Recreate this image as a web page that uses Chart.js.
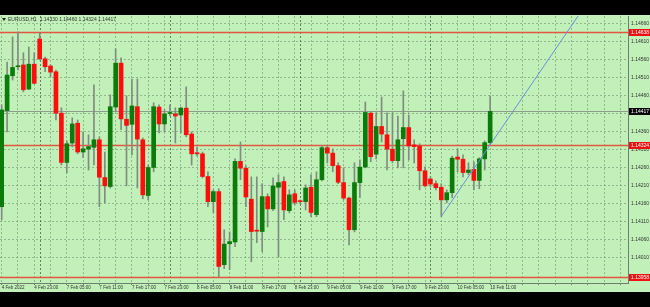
<!DOCTYPE html>
<html>
<head>
<meta charset="utf-8">
<script src="https://cdn.jsdelivr.net/npm/chart.js@4.4.1/dist/chart.umd.min.js"></script>
<style>
  html, body { margin: 0; padding: 0; background: #000; }
  #wrap { width: 650px; height: 307px; }
</style>
</head>
<body>
<div id="wrap"><canvas id="price_chart" width="650" height="307"></canvas></div>
<script>
// EURUSD H1, 4 Feb 17:00 .. 10 Feb 11:00
var opens = [1.14152,1.14419,1.14516,1.14541,1.14546,1.14479,1.14548,1.14618,1.14563,1.14543,
  1.14527,1.14412,1.14275,1.14329,1.14384,1.14304,1.14312,1.14317,1.14338,1.14233,
  1.14208,1.14429,1.14551,1.14395,1.14381,1.14430,1.14338,1.14183,1.14261,1.14429,
  1.14382,1.14411,1.14410,1.14407,1.14426,1.14354,1.14302,1.14299,1.14236,1.14166,
  1.14194,1.13991,1.14049,1.14054,1.14278,1.14259,1.14173,1.14085,1.14083,1.14180,
  1.14146,1.14206,1.14222,1.14141,1.14188,1.14167,1.14166,1.14206,1.14130,1.14227,
  1.14316,1.14301,1.14266,1.14219,1.14176,1.14088,1.14219,1.14262,1.14412,1.14298,
  1.14375,1.14352,1.14312,1.14280,1.14341,1.14372,1.14324,1.14321,1.14252,1.14229,
  1.14216,1.14206,1.14171,1.14191,1.14290,1.14284,1.14247,1.14256,1.14225,1.14285,
  1.14330];
var highs = [1.14435,1.14554,1.14624,1.14638,1.14580,1.14596,1.14580,1.14635,1.14568,1.14546,
  1.14532,1.14427,1.14335,1.14399,1.14393,1.14360,1.14352,1.14491,1.14346,1.14304,
  1.14463,1.14591,1.14566,1.14460,1.14507,1.14507,1.14343,1.14268,1.14441,1.14435,
  1.14421,1.14435,1.14427,1.14429,1.14485,1.14360,1.14318,1.14304,1.14249,1.14199,
  1.14202,1.14088,1.14082,1.14285,1.14332,1.14266,1.14235,1.14235,1.14216,1.14188,
  1.14232,1.14241,1.14235,1.14199,1.14199,1.14171,1.14213,1.14241,1.14249,1.14321,
  1.14321,1.14313,1.14274,1.14260,1.14179,1.14274,1.14282,1.14443,1.14416,1.14413,
  1.14457,1.14413,1.14413,1.14404,1.14474,1.14407,1.14338,1.14327,1.14263,1.14235,
  1.14224,1.14216,1.14199,1.14293,1.14313,1.14296,1.14274,1.14277,1.14288,1.14335,
  1.14460];
var lows = [1.14116,1.14360,1.14504,1.14532,1.14471,1.14477,1.14493,1.14560,1.14527,1.14513,
  1.14393,1.14268,1.14246,1.14318,1.14299,1.14288,1.14254,1.14268,1.14152,1.14163,
  1.14204,1.14416,1.14366,1.14210,1.14296,1.14204,1.14174,1.14171,1.14249,1.14357,
  1.14360,1.14404,1.14329,1.14357,1.14346,1.14268,1.14293,1.14232,1.14152,1.14135,
  1.13958,1.13980,1.13977,1.14041,1.14227,1.14152,1.13999,1.14052,1.14027,1.14096,
  1.14141,1.14013,1.14116,1.14135,1.14157,1.14160,1.14143,1.14124,1.14124,1.14224,
  1.14274,1.14249,1.14216,1.14171,1.14046,1.14082,1.14177,1.14260,1.14277,1.14285,
  1.14332,1.14254,1.14274,1.14260,1.14260,1.14282,1.14274,1.14199,1.14207,1.14207,
  1.14199,1.14125,1.14163,1.14177,1.14249,1.14235,1.14241,1.14199,1.14202,1.14254,
  1.14324];
var closes = [1.14421,1.14518,1.14539,1.14542,1.14477,1.14548,1.14495,1.14563,1.14541,1.14526,
  1.14412,1.14275,1.14327,1.14382,1.14304,1.14313,1.14319,1.14338,1.14234,1.14210,
  1.14430,1.14551,1.14396,1.14378,1.14432,1.14340,1.14185,1.14261,1.14430,1.14382,
  1.14410,1.14413,1.14404,1.14426,1.14352,1.14299,1.14299,1.14236,1.14166,1.14194,
  1.13986,1.14048,1.14055,1.14278,1.14259,1.14179,1.14083,1.14084,1.14180,1.14146,
  1.14210,1.14219,1.14143,1.14185,1.14164,1.14166,1.14204,1.14136,1.14227,1.14316,
  1.14301,1.14266,1.14220,1.14176,1.14088,1.14219,1.14262,1.14414,1.14291,1.14375,
  1.14354,1.14312,1.14280,1.14338,1.14372,1.14321,1.14319,1.14252,1.14210,1.14215,
  1.14205,1.14171,1.14191,1.14287,1.14284,1.14247,1.14254,1.14225,1.14285,1.14330,
  1.14417];

var timeLabelIdx = [0,6,12,18,24,30,36,42,48,54,60,66,72,78,84,90];
var timeLabels = ['4 Feb 2022','4 Feb 23:00','7 Feb 05:00','7 Feb 11:00','7 Feb 17:00','7 Feb 23:00',
  '8 Feb 05:00','8 Feb 11:00','8 Feb 17:00','8 Feb 23:00','9 Feb 05:00','9 Feb 11:00',
  '9 Feb 17:00','9 Feb 23:00','10 Feb 05:00','10 Feb 11:00'];
var dayBreakIdx = [7,31,55,79];
var priceTicks = [1.14660,1.14610,1.14560,1.14510,1.14460,1.14410,1.14360,1.14310,
  1.14260,1.14210,1.14160,1.14110,1.14060,1.14010];
var redLevels = [1.14638,1.14324,1.13958];
var bidPrice = 1.14417;
var trendX = [81,106.2];
var trendY = [1.14125,1.14682];

var bodyData = [], wickData = [], bodyColours = [];
for (var i = 0; i < opens.length; i++) {
  bodyData.push({x: i, y: [opens[i], closes[i]]});
  wickData.push({x: i, y: [lows[i], highs[i]]});
  bodyColours.push(closes[i] >= opens[i] ? '#0b7c0b' : '#ff0d0d');
}
var trendData = trendX.map(function(x, k) { return {x: x, y: trendY[k]}; });

var FONT = 'Liberation Sans';

var frame = {
  id: 'frame',
  beforeDraw: function(chart) {
    var c = chart.ctx;
    c.save();
    c.fillStyle = '#000';
    c.fillRect(0, 0, chart.width, chart.height);
    c.fillStyle = '#c1f1b9';
    c.fillRect(0, 15, chart.width, 277);
    c.restore();
  },
  beforeDatasetsDraw: function(chart) {
    var c = chart.ctx, a = chart.chartArea;
    var xs = chart.scales.x, ys = chart.scales.y;
    c.save();
    // day separators
    c.strokeStyle = 'rgba(70,90,70,0.75)';
    c.lineWidth = 1;
    c.setLineDash([2, 2]);
    dayBreakIdx.forEach(function(d) {
      var px = Math.round(xs.getPixelForValue(d)) + 0.5;
      c.beginPath(); c.moveTo(px, a.top); c.lineTo(px, a.bottom); c.stroke();
    });
    c.setLineDash([]);
    // bid line
    var by = Math.round(ys.getPixelForValue(bidPrice)) + 0.5;
    c.strokeStyle = '#8d9f8b';
    c.beginPath(); c.moveTo(a.left, by); c.lineTo(a.right, by); c.stroke();
    // red levels
    c.strokeStyle = '#e4573f';
    c.lineWidth = 1.3;
    redLevels.forEach(function(v) {
      var py = Math.round(ys.getPixelForValue(v)) + 0.5;
      c.beginPath(); c.moveTo(a.left, py); c.lineTo(a.right, py); c.stroke();
    });
    c.restore();
  },
  afterDraw: function(chart) {
    var c = chart.ctx, a = chart.chartArea, ys = chart.scales.y;
    c.save();
    c.font = '5px "' + FONT + '"';
    c.textBaseline = 'middle';
    function box(v, bg) {
      var py = Math.round(ys.getPixelForValue(v));
      c.fillStyle = bg;
      c.fillRect(a.right + 1, py - 3, 21, 7);
      c.fillStyle = '#fff';
      c.fillText(v.toFixed(5), a.right + 3, py + 0.5);
    }
    redLevels.forEach(function(v) { box(v, '#f01010'); });
    box(bidPrice, '#000');
    // header
    c.fillStyle = '#222';
    c.beginPath(); c.moveTo(2, 18); c.lineTo(6, 18); c.lineTo(4, 21); c.closePath(); c.fill();
    c.fillStyle = '#333';
    c.fillText('EURUSD,H1  ' + opens[opens.length - 1].toFixed(5) + ' ' +
      highs[highs.length - 1].toFixed(5) + ' ' + lows[lows.length - 1].toFixed(5) + ' ' +
      closes[closes.length - 1].toFixed(5), 8, 19.5);
    c.restore();
  }
};

var gridTicks = [];
for (var g = 0; g <= 114; g += 3) gridTicks.push(g);

new Chart(document.getElementById('price_chart'), {
  type: 'bar',
  data: {
    datasets: [
      {
        type: 'line',
        data: trendData,
        borderColor: '#6b8fdc',
        borderWidth: 1,
        pointRadius: 0,
        order: 0
      },
      {
        data: bodyData,
        backgroundColor: bodyColours,
        barThickness: 4,
        minBarLength: 1,
        grouped: false,
        order: 1
      },
      {
        data: wickData,
        backgroundColor: '#808c80',
        barThickness: 1,
        grouped: false,
        order: 2
      }
    ]
  },
  options: {
    responsive: false,
    animation: false,
    devicePixelRatio: 1,
    layout: { padding: { top: 16, bottom: 15, left: 0, right: 0 } },
    plugins: { legend: { display: false }, tooltip: { enabled: false } },
    scales: {
      x: {
        type: 'linear',
        min: -0.31,
        max: 115.4,
        offset: false,
        afterBuildTicks: function(s) {
          s.ticks = gridTicks.map(function(v) { return {value: v}; });
        },
        afterFit: function(s) { s.height = 9; },
        grid: {
          offset: false,
          color: 'rgba(100,125,100,0.5)',
          tickLength: 2,
          tickColor: '#6f7f6f'
        },
        border: { display: true, color: '#6f7f6f', dash: [2, 2] },
        ticks: {
          autoSkip: false,
          maxRotation: 0,
          align: 'start',
          padding: 0,
          color: '#333',
          font: { family: FONT, size: 4.5 },
          callback: function(v) {
            var k = timeLabelIdx.indexOf(v);
            return k >= 0 ? timeLabels[k] : '';
          }
        }
      },
      y: {
        position: 'right',
        min: 1.13940,
        max: 1.14682,
        beginAtZero: false,
        afterBuildTicks: function(s) {
          s.ticks = priceTicks.map(function(v) { return {value: v}; });
        },
        afterFit: function(s) { s.width = 22; },
        grid: {
          color: 'rgba(100,125,100,0.5)',
          drawTicks: false
        },
        border: { display: true, color: '#6f7f6f', dash: [2, 2] },
        ticks: {
          padding: 3,
          color: '#333',
          font: { family: FONT, size: 5 },
          callback: function(v) { return v.toFixed(5); }
        }
      }
    }
  },
  plugins: [frame]
});
</script>
</body>
</html>
